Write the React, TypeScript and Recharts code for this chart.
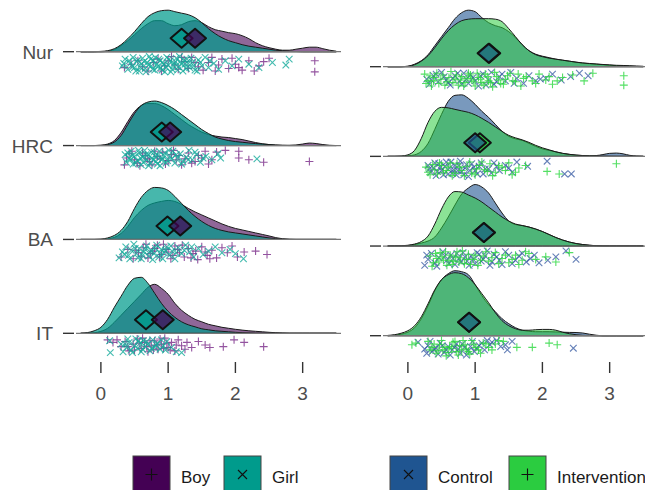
import { ComposedChart, Area, Scatter, XAxis, YAxis, ReferenceLine } from "recharts"

// x positions where the density heights were read
const GRID_X = [
  -0.3, -0.2, -0.1, 0, 0.1, 0.2, 0.3, 0.4, 0.5, 0.6, 0.7, 0.8, 0.9, 1, 1.1, 1.2, 1.3, 1.4, 1.5, 1.6,
  1.7, 1.8, 1.9, 2, 2.1, 2.2, 2.3, 2.4, 2.5, 2.6, 2.7, 2.8, 2.9, 3, 3.1, 3.2, 3.3, 3.4, 3.5,
]

// rows bottom to top (y = 1..4)
const ROW_LABELS = ["IT", "BA", "HRC", "Nur"]
const X_TICKS = [0, 1, 2, 3]

// density heights, one value per GRID_X
const NUR_BOY = [0,0,0,0,0.5,2,6,11,17,23,28,31,31,28,26,27,30,31,29,25,22,20.5,19,18,16,13,9,6,4,2.5,1.5,1.5,2.5,3.5,4.5,4.5,3,1.5,0.5]
const NUR_GIRL = [0,0,0,0.3,1,3,7,13,20,28,35,39,41,41.5,40,38.5,37,34,29,23,18,14,11,9,7,5.5,4.5,3.5,2.5,1.5,1,0.5,0.2,0,0,0,0,0,0]
const HRC_BOY = [0,0,0,0.3,1.5,5,13,24,34,40,42,42,40,36,31,26,21,17,13.5,11,9.5,8.5,8,7,6,4.5,3,1.8,1,0.5,0.3,0.3,0.6,1.5,2.5,2,1,0.3,0]
const HRC_GIRL = [0,0,0,0.2,1,3.5,10,21,32,40,43.5,44.5,43,40,36,31,26,21,16,12,8.5,6.5,5,4,3.3,2.6,2,1.5,1,0.5,0.2,0,0,0,0,0,0,0,0]
const BA_BOY = [0,0,0,0,0.5,2,6,13,22,29,34,36.5,38,39,38,35,31,27.5,24.5,21.5,18.5,15.5,13,11,9.5,8,6.5,5,3.5,1.8,0.7,0.2,0,0,0,0,0,0,0]
const BA_GIRL = [0,0,0,0.3,1.5,4,9,18,31,42,49,52,51.5,49,43,36,29,23,18,14,11,9,7.5,6.5,5.5,4.5,3.5,2.5,1.5,0.8,0.3,0,0,0,0,0,0,0,0]
const IT_BOY = [0,0,0.5,2,5,11,18,25,32,39,46,49,45,39,30,23,18,14,11.5,9,7.5,6,5,4,3.2,2.5,2,1.5,1,0.6,0.3,0,0,0,0,0,0,0,0]
const IT_GIRL = [0,0.7,2.5,6,14,26,37,48,55,56,50,40,30,22,16,11.5,8.5,6.5,4.5,3.5,2.5,2,1.5,1,0.6,0.3,0,0,0,0,0,0,0,0,0,0,0,0,0]

const NUR_CTRL = [0,0,0,0.5,2.5,6,12,21,30,39,48,54,56.5,55,49,44,41,39,35,29,22,16,12.5,10.5,9,7.5,6.5,5.5,4.5,3.5,3,2.5,2,1.5,1,0.7,0.4,0.2,0]
const NUR_INT = [0,0,0,0.3,2,5.5,11,19,28,36,42,46,47.5,48,48,48,47.5,45,38,30,22,16,12,10,8.5,7.5,6.5,5.5,4.5,3.8,3.2,2.7,2.2,1.8,1.4,1.2,1,0.7,0.4]
const HRC_CTRL = [0,0,0,0.5,1.5,5,13,27,42,55,61,61.5,58,52,45,39,32,25,20,17.5,16,13,10,7.5,6,4.5,3,2,1.2,0.8,0.6,0.8,1.8,3,3.3,2.5,1,0.3,0]
const HRC_INT = [0,0,0.3,1.5,6,18,34,45,49,48.5,47,45.5,44,41.5,38,34,29.5,25,21,18.5,16.5,14,11,8.5,6.5,4.5,3,2,1.3,0.8,0.5,0.3,0.2,0.1,0,0,0,0,0]
const BA_CTRL = [0,0,0,0.5,1.5,3,5,9,18,29,41,52,58,61.5,59,53,43,33,25,21.5,20.5,19,17,14.5,11.5,8.5,6,4,2.5,1.5,0.8,0.3,0,0,0,0,0,0,0]
const BA_INT = [0,0,0.2,0.8,2,4.5,10,22,37,49,54.5,54,51,48,44,39,34,29,25,22,20.5,19,17,14.5,11.5,8.5,6,4,2.5,1.5,0.8,0.3,0,0,0,0,0,0,0]
const IT_CTRL = [0,0.5,1.5,3.5,8,17,30,45,56,62,65,64,61,51,40,31,24,17,12,8,5.5,4.5,4,4,4,3.8,3.5,3.3,3.2,2.7,1.5,0.5,0,0,0,0,0,0,0]
const IT_INT = [0.3,1,2.5,5,10,19,32,46,56,61,63,62,58,51,42,33,23,15,10,7,5.5,5.5,6,6.3,6.3,5.5,3.5,2,1,0.4,0.2,0,0,0,0,0,0,0,0]

// raw observations: [value, jitter 0..1]
const NUR_GIRL_PTS = [[0.32,0.6],[0.36,0.2],[0.4,0.8],[0.44,0.45],[0.48,0.1],[0.5,0.7],[0.53,0.35],[0.57,0.9],[0.6,0.5],[0.62,0.15],[0.66,0.75],[0.69,0.4],[0.72,0.05],[0.75,0.6],[0.78,0.3],[0.8,0.85],[0.83,0.5],[0.86,0.2],[0.89,0.7],[0.92,0.4],[0.95,0.95],[0.98,0.1],[1.0,0.55],[1.03,0.3],[1.06,0.8],[1.09,0.45],[1.12,0.15],[1.15,0.65],[1.18,0.35],[1.22,0.9],[1.25,0.5],[1.28,0.2],[1.32,0.7],[1.36,0.4],[1.4,0.85],[1.45,0.25],[1.5,0.6],[1.55,0.1],[1.68,0.45],[1.75,0.8],[1.85,0.3],[1.95,0.6],[2.05,0.2],[2.2,0.5],[2.35,0.7],[2.55,0.4],[2.75,0.55],[2.8,0.2],
  [0.34,0.45],[0.42,0.3],[0.47,0.65],[0.52,0.9],[0.55,0.25],[0.59,0.7],[0.64,0.35],[0.67,0.95],[0.71,0.55],[0.74,0.2],[0.77,0.8],[0.81,0.1],[0.84,0.65],[0.88,0.3],[0.91,0.85],[0.94,0.5],[0.97,0.7],[1.01,0.2],[1.04,0.95],[1.08,0.6],[1.11,0.35],[1.14,0.85],[1.17,0.05],[1.2,0.5],[1.24,0.25],[1.27,0.75],[1.3,0.45],[1.34,0.15],[1.38,0.6],[1.43,0.9],[1.48,0.4],[1.6,0.7],[1.62,0.3]]
const NUR_BOY_PTS = [[0.35,0.7],[0.55,0.3],[0.7,0.9],[0.85,0.2],[0.95,0.6],[1.05,0.05],[1.15,0.8],[1.25,0.35],[1.35,0.1],[1.45,0.65],[1.6,0.4],[1.7,0.9],[1.8,0.2],[1.9,0.75],[2.0,0.5],[2.1,0.85],[2.2,0.3],[2.35,0.6],[2.5,0.15],[3.18,0.3],[3.18,0.95],
  [0.45,0.5],[0.62,0.65],[0.78,0.4],[0.9,0.9],[1.0,0.3],[1.1,0.55],[1.2,0.1],[1.3,0.75],[1.4,0.4],[1.52,0.85],[1.65,0.1],[1.75,0.55],[1.95,0.15],[2.05,0.7],[2.28,0.9],[2.42,0.35]]
const HRC_GIRL_PTS = [[0.36,0.3],[0.38,0.75],[0.42,0.5],[0.45,0.1],[0.48,0.85],[0.5,0.4],[0.54,0.65],[0.57,0.2],[0.6,0.9],[0.62,0.45],[0.65,0.05],[0.68,0.6],[0.7,0.3],[0.73,0.8],[0.76,0.5],[0.79,0.15],[0.82,0.7],[0.85,0.35],[0.88,0.95],[0.92,0.55],[0.95,0.2],[0.99,0.65],[1.03,0.4],[1.07,0.1],[1.1,0.8],[1.14,0.5],[1.18,0.25],[1.22,0.7],[1.27,0.45],[1.31,0.05],[1.36,0.6],[1.42,0.3],[1.48,0.75],[1.56,0.4],[1.65,0.6],[1.74,0.25],[1.78,0.5],[2.32,0.55],
  [0.4,0.2],[0.44,0.6],[0.47,0.35],[0.52,0.8],[0.56,0.05],[0.59,0.5],[0.63,0.75],[0.67,0.3],[0.71,0.95],[0.75,0.15],[0.78,0.6],[0.81,0.4],[0.84,0.85],[0.87,0.1],[0.9,0.6],[0.94,0.35],[0.97,0.8],[1.01,0.05],[1.05,0.55],[1.12,0.3],[1.2,0.85],[1.3,0.6],[1.4,0.15],[1.52,0.5]]
const HRC_BOY_PTS = [[0.35,0.9],[0.42,0.25],[0.5,0.6],[0.58,0.95],[0.66,0.35],[0.72,0.7],[0.8,0.1],[0.88,0.55],[0.96,0.85],[1.05,0.3],[1.12,0.6],[1.2,0.9],[1.3,0.2],[1.4,0.7],[1.5,0.5],[1.6,0.85],[1.72,0.15],[1.85,0.05],[2.05,0.1],[2.05,0.5],[2.2,0.6],[2.42,0.75],[3.1,0.7],
  [0.38,0.5],[0.46,0.1],[0.54,0.8],[0.62,0.2],[0.69,0.55],[0.76,0.9],[0.84,0.4],[0.92,0.15],[1.0,0.65],[1.08,0.05],[1.16,0.35],[1.25,0.55],[1.35,0.8],[1.45,0.35],[1.55,0.1],[1.65,0.6]]
const BA_GIRL_PTS = [[0.27,0.85],[0.32,0.5],[0.37,0.2],[0.41,0.7],[0.45,0.4],[0.49,0.05],[0.53,0.6],[0.57,0.3],[0.6,0.9],[0.64,0.5],[0.68,0.15],[0.71,0.75],[0.75,0.4],[0.79,0.6],[0.83,0.1],[0.86,0.8],[0.9,0.35],[0.94,0.55],[0.98,0.2],[1.02,0.7],[1.06,0.45],[1.1,0.9],[1.15,0.25],[1.2,0.6],[1.26,0.1],[1.32,0.5],[1.38,0.8],[1.45,0.3],[1.52,0.65],[1.6,0.45],[1.7,0.2],[1.8,0.55],[1.92,0.35],[2.0,0.6],[2.12,0.9],
  [0.35,0.65],[0.43,0.9],[0.51,0.3],[0.55,0.85],[0.62,0.7],[0.66,0.35],[0.73,0.5],[0.77,0.95],[0.81,0.3],[0.88,0.55],[0.92,0.9],[0.96,0.4],[1.04,0.15],[1.12,0.55],[1.24,0.4],[1.35,0.2]]
const BA_BOY_PTS = [[0.3,0.8],[0.4,0.35],[0.48,0.9],[0.56,0.55],[0.63,0.25],[0.7,0.85],[0.77,0.45],[0.84,0.1],[0.9,0.65],[0.97,0.35],[1.04,0.9],[1.1,0.15],[1.17,0.55],[1.24,0.8],[1.3,0.3],[1.37,0.6],[1.44,0.95],[1.5,0.2],[1.58,0.7],[1.65,0.4],[1.72,0.85],[1.8,0.25],[1.88,0.55],[1.95,0.15],[2.03,0.8],[2.13,0.5],[2.3,0.45],[2.47,0.65],
  [0.52,0.4],[0.6,0.75],[0.67,0.05],[0.74,0.6],[0.8,0.3],[0.87,0.8],[0.93,0.05],[1.0,0.5],[1.07,0.7],[1.14,0.35],[1.21,0.1],[1.34,0.85],[1.41,0.45],[1.55,0.5],[1.62,0.9]]
const IT_GIRL_PTS = [[0.13,0.2],[0.14,0.9],[0.3,0.4],[0.33,0.85],[0.38,0.6],[0.42,0.3],[0.45,0.75],[0.5,0.5],[0.52,0.1],[0.55,0.65],[0.58,0.35],[0.6,0.85],[0.63,0.2],[0.66,0.55],[0.7,0.4],[0.73,0.8],[0.77,0.15],[0.8,0.6],[0.84,0.35],[0.88,0.7],[0.93,0.5],[0.98,0.25],[1.05,0.6],[1.12,0.85],[1.2,0.9],
  [0.36,0.4],[0.4,0.1],[0.47,0.9],[0.56,0.2],[0.62,0.7],[0.68,0.25],[0.75,0.65],[0.82,0.45],[0.9,0.15],[0.96,0.75]]
const IT_BOY_PTS = [[0.1,0.15],[0.18,0.3],[0.24,0.15],[0.3,0.55],[0.36,0.25],[0.42,0.8],[0.48,0.4],[0.54,0.1],[0.6,0.65],[0.65,0.3],[0.7,0.85],[0.75,0.5],[0.8,0.2],[0.85,0.7],[0.9,0.4],[0.95,0.05],[1.0,0.6],[1.05,0.3],[1.1,0.8],[1.15,0.15],[1.2,0.5],[1.28,0.3],[1.35,0.6],[1.45,0.25],[1.55,0.45],[1.62,0.6],[1.82,0.55],[1.98,0.15],[2.13,0.3],[2.42,0.55],
  [0.4,0.55],[0.5,0.75],[0.57,0.35],[0.62,0.05],[0.68,0.55],[0.73,0.2],[0.78,0.75],[0.83,0.45],[0.88,0.1],[0.93,0.65],[0.98,0.35],[1.03,0.75],[1.12,0.45],[1.25,0.7]]

const NUR_CTRL_PTS = [[0.28,0.5],[0.32,0.8],[0.38,0.3],[0.45,0.65],[0.5,0.1],[0.57,0.55],[0.63,0.85],[0.7,0.3],[0.77,0.6],[0.83,0.15],[0.9,0.75],[0.97,0.4],[1.05,0.9],[1.12,0.2],[1.2,0.55],[1.28,0.8],[1.36,0.35],[1.45,0.6],[1.53,0.1],[1.62,0.45],[1.72,0.75],[1.8,0.3],[1.9,0.6],[2.05,0.45],[2.15,0.2],[2.28,0.55],[2.42,0.35],[2.55,0.15],[2.68,0.3],
  [0.35,0.55],[0.42,0.2],[0.54,0.35],[0.6,0.7],[0.67,0.45],[0.74,0.15],[0.8,0.8],[0.87,0.5],[0.93,0.25],[1.0,0.6],[1.08,0.3],[1.16,0.85],[1.24,0.1],[1.32,0.65],[1.4,0.2],[1.58,0.75],[1.97,0.5]]
const NUR_INT_PTS = [[0.25,0.2],[0.3,0.6],[0.35,0.9],[0.4,0.4],[0.46,0.75],[0.52,0.25],[0.58,0.65],[0.64,0.05],[0.7,0.5],[0.75,0.85],[0.8,0.35],[0.85,0.7],[0.9,0.15],[0.95,0.55],[1.0,0.9],[1.05,0.4],[1.1,0.7],[1.15,0.2],[1.2,0.6],[1.26,0.95],[1.32,0.35],[1.38,0.75],[1.45,0.5],[1.52,0.15],[1.6,0.65],[1.68,0.9],[1.76,0.35],[1.85,0.6],[1.95,0.2],[2.05,0.55],[2.15,0.8],[2.3,0.4],[2.45,0.25],[2.62,0.6],[2.75,0.15],[3.21,0.3],[3.21,0.85],
  [0.27,0.75],[0.33,0.3],[0.38,0.6],[0.43,0.15],[0.49,0.5],[0.55,0.85],[0.61,0.4],[0.67,0.7],[0.72,0.25],[0.78,0.55],[0.83,0.9],[0.88,0.45],[0.93,0.25],[0.98,0.65],[1.03,0.15],[1.08,0.5],[1.13,0.85],[1.18,0.35],[1.23,0.7],[1.29,0.1],[1.35,0.55],[1.42,0.8],[1.48,0.3],[1.56,0.6],[1.64,0.2],[1.72,0.45],[1.9,0.75],[2.1,0.35],[2.22,0.6]]
const HRC_CTRL_PTS = [[0.3,0.3],[0.34,0.7],[0.38,0.45],[0.42,0.9],[0.46,0.2],[0.5,0.6],[0.55,0.35],[0.6,0.8],[0.64,0.1],[0.68,0.55],[0.72,0.85],[0.76,0.3],[0.8,0.65],[0.85,0.45],[0.9,0.95],[0.95,0.2],[1.0,0.6],[1.06,0.35],[1.12,0.8],[1.2,0.5],[1.28,0.15],[1.36,0.6],[1.45,0.3],[1.55,0.7],[1.62,0.1],[1.78,0.35],[2.07,0.05],[2.33,0.8],[2.43,0.8],
  [0.32,0.5],[0.4,0.15],[0.44,0.65],[0.48,0.4],[0.53,0.85],[0.57,0.1],[0.62,0.45],[0.66,0.75],[0.7,0.3],[0.74,0.6],[0.78,0.05],[0.83,0.85],[0.87,0.25],[0.92,0.6],[0.98,0.4],[1.03,0.8],[1.09,0.15],[1.15,0.5],[1.24,0.75],[1.32,0.35],[1.5,0.45]]
const HRC_INT_PTS = [[0.27,0.4],[0.33,0.85],[0.4,0.55],[0.47,0.15],[0.53,0.7],[0.6,0.4],[0.66,0.9],[0.73,0.2],[0.8,0.6],[0.88,0.35],[0.95,0.75],[1.02,0.5],[1.1,0.1],[1.18,0.65],[1.26,0.9],[1.35,0.3],[1.45,0.6],[1.55,0.85],[1.65,0.45],[2.07,0.65],[2.25,0.8],[3.1,0.2],
  [0.3,0.7],[0.37,0.25],[0.44,0.8],[0.5,0.3],[0.57,0.6],[0.63,0.15],[0.7,0.75],[0.77,0.4],[0.84,0.9],[0.92,0.1],[1.0,0.85],[1.06,0.3],[1.14,0.55],[1.22,0.2],[1.3,0.7],[1.4,0.4],[1.5,0.15],[1.6,0.7],[1.75,0.3]]
const BA_CTRL_PTS = [[0.25,0.9],[0.3,0.55],[0.35,0.2],[0.4,0.75],[0.46,0.45],[0.52,0.1],[0.58,0.6],[0.64,0.3],[0.7,0.85],[0.76,0.5],[0.82,0.15],[0.88,0.65],[0.94,0.35],[1.0,0.8],[1.06,0.25],[1.12,0.55],[1.18,0.05],[1.25,0.7],[1.32,0.4],[1.4,0.85],[1.5,0.3],[1.6,0.6],[1.7,0.2],[1.82,0.5],[1.95,0.75],[2.35,0.05],[2.5,0.55],
  [0.28,0.3],[0.43,0.95],[0.55,0.35],[0.61,0.8],[0.67,0.5],[0.73,0.2],[0.79,0.7],[0.85,0.4],[0.91,0.9],[0.97,0.55],[1.03,0.15],[1.09,0.65],[1.15,0.35],[1.22,0.9],[1.28,0.25],[1.36,0.6],[1.45,0.1],[1.55,0.8],[1.65,0.35],[1.76,0.7],[1.88,0.3],[2.08,0.6],[2.2,0.4]]
const BA_INT_PTS = [[0.33,0.35],[0.38,0.75],[0.43,0.5],[0.48,0.15],[0.53,0.6],[0.58,0.9],[0.63,0.3],[0.68,0.65],[0.73,0.1],[0.78,0.45],[0.84,0.8],[0.9,0.25],[0.97,0.55],[1.04,0.9],[1.12,0.35],[1.2,0.65],[1.3,0.15],[1.4,0.5],[1.5,0.75],[1.6,0.3],[1.7,0.6],[1.8,0.2],[1.9,0.55],[2.05,0.4],[2.2,0.7],[2.4,0.15],
  [0.36,0.95],[0.41,0.2],[0.46,0.7],[0.51,0.4],[0.56,0.1],[0.61,0.6],[0.66,0.85],[0.71,0.4],[0.76,0.7],[0.81,0.05],[0.87,0.55],[0.93,0.85],[1.0,0.3],[1.08,0.6],[1.16,0.1],[1.25,0.45],[1.35,0.8],[1.45,0.3],[1.55,0.55],[1.65,0.85],[1.75,0.1]]
const IT_CTRL_PTS = [[0.15,0.15],[0.25,0.55],[0.3,0.35],[0.36,0.7],[0.42,0.5],[0.48,0.2],[0.54,0.75],[0.6,0.4],[0.66,0.6],[0.72,0.25],[0.78,0.8],[0.84,0.45],[0.9,0.65],[0.96,0.1],[1.02,0.5],[1.1,0.2],[1.18,0.05],[1.25,0.15],[1.32,0.05],[1.45,0.3],[1.55,0.1],[2.46,0.5],
  [0.28,0.8],[0.33,0.1],[0.39,0.55],[0.45,0.85],[0.51,0.35],[0.57,0.6],[0.63,0.9],[0.69,0.45],[0.75,0.55],[0.81,0.25],[0.87,0.9],[0.93,0.4],[0.99,0.7],[1.06,0.35],[1.14,0.6],[1.22,0.3],[1.38,0.4],[1.48,0.6]]
const IT_INT_PTS = [[0.06,0.3],[0.12,0.2],[0.3,0.1],[0.36,0.45],[0.42,0.8],[0.47,0.3],[0.52,0.6],[0.57,0.95],[0.62,0.4],[0.67,0.15],[0.72,0.7],[0.77,0.35],[0.82,0.05],[0.87,0.55],[0.92,0.85],[0.98,0.3],[1.05,0.6],[1.12,0.2],[1.2,0.45],[1.3,0.25],[1.42,0.1],[1.62,0.45],[1.85,0.45],[2.1,0.2],[2.22,0.3],
  [0.33,0.6],[0.39,0.25],[0.45,0.65],[0.5,0.05],[0.55,0.45],[0.6,0.75],[0.65,0.5],[0.7,0.1],[0.75,0.9],[0.8,0.6],[0.85,0.3],[0.9,0.7],[0.95,0.05],[1.01,0.45],[1.08,0.8],[1.16,0.25],[1.25,0.6],[1.35,0.05]]

// means (diamonds), rows IT, BA, HRC, Nur
const BOY_MEANS = [0.92, 1.18, 1.03, 1.4]
const GIRL_MEANS = [0.67, 0.99, 0.905, 1.2]
const CTRL_MEANS = [0.91, 1.13, 1.0, 1.2]
const INT_MEANS = [0.91, 1.13, 1.07, 1.21]

const BOY = "#440154"
const GIRL = "#009B8C"
const CTRL = "#1F5591"
const INTV = "#2BCC40"
const FONT = "'Liberation Sans', Arial, sans-serif"

type Group = {
  key: string
  color: string
  fillOpacity: number
  pointColor: string
  marker: "plus" | "cross"
  dens: number[][] // by row
  pts: number[][][] // by row
  means: number[]
  meanOpacity: number
}

const plusShape = (color: string) => (p: any) => {
  const { cx, cy } = p
  const r = 4
  return <path d={`M${cx - r},${cy}H${cx + r}M${cx},${cy - r}V${cy + r}`} stroke={color} strokeWidth={1.1} fill="none" />
}
const crossShape = (color: string) => (p: any) => {
  const { cx, cy } = p
  const r = 3.3
  return <path d={`M${cx - r},${cy - r}L${cx + r},${cy + r}M${cx - r},${cy + r}L${cx + r},${cy - r}`} stroke={color} strokeWidth={1.1} fill="none" />
}
const diamondShape = (color: string, op: number) => (p: any) => {
  const { cx, cy } = p
  return (
    <polygon
      points={`${cx - 11},${cy} ${cx},${cy - 9.5} ${cx + 11},${cy} ${cx},${cy + 9.5}`}
      fill={color}
      fillOpacity={op}
      stroke="#111"
      strokeWidth={2}
      strokeLinejoin="round"
    />
  )
}

function Panel({ groups, domainY, pxPerRow, showLabels, left }: { groups: Group[]; domainY: number[]; pxPerRow: number; showLabels: boolean; left: number }) {
  const rows = [1, 2, 3, 4]
  const data = GRID_X.map((x, i) => {
    const o: any = { x }
    groups.forEach(g => {
      g.dens.forEach((h, r) => {
        o[`${g.key}${r}`] = [r + 1, r + 1 + h[i] / pxPerRow]
      })
    })
    return o
  })

  const YTick = (p: any) => (
    <g>
      <line x1={p.x - 13} x2={p.x - 2} y1={p.y} y2={p.y} stroke="#333" strokeWidth={1.4} />
      {showLabels && (
        <text x={p.x - 23} y={p.y} dy={7} textAnchor="end" fontSize={19} fill="#4d4d4d" fontFamily={FONT}>
          {ROW_LABELS[p.payload.value - 1]}
        </text>
      )}
    </g>
  )
  const XTick = (p: any) => (
    <g>
      <line x1={p.x} x2={p.x} y1={p.y + 1} y2={p.y + 12} stroke="#333" strokeWidth={1.4} />
      <text x={p.x} y={p.y + 38.5} textAnchor="middle" fontSize={19} fill="#4d4d4d" fontFamily={FONT}>
        {p.payload.value}
      </text>
    </g>
  )

  // second group's diamonds go underneath the first group's
  const meanOrder = [...groups].reverse()

  return (
    <div style={{ position: "absolute", left, top: 0 }}>
      <ComposedChart width={345} height={410} data={data} margin={{ top: 4, right: 4, bottom: 4, left: 0 }}>
        <XAxis
          dataKey="x"
          type="number"
          domain={[-0.37, 3.57]}
          allowDataOverflow
          ticks={X_TICKS}
          axisLine={false}
          tickLine={false}
          tickSize={0}
          tickMargin={0}
          height={45}
          tick={XTick}
        />
        <YAxis
          dataKey="y"
          type="number"
          domain={domainY}
          allowDataOverflow
          ticks={rows}
          axisLine={false}
          tickLine={false}
          tickSize={0}
          tickMargin={0}
          width={76}
          tick={YTick}
        />
        {rows.map(r => (
          <ReferenceLine key={`base${r}`} y={r} stroke="#777" strokeWidth={1.2} />
        ))}
        {groups.map(g =>
          rows.map(r => (
            <Area
              key={`${g.key}${r - 1}`}
              dataKey={`${g.key}${r - 1}`}
              type="monotone"
              stroke="#1a1a1a"
              strokeWidth={1}
              fill={g.color}
              fillOpacity={g.fillOpacity}
              dot={false}
              activeDot={false}
              isAnimationActive={false}
            />
          ))
        )}
        {groups.map(g =>
          rows.map(r => (
            <Scatter
              key={`pts-${g.key}${r}`}
              data={g.pts[r - 1].map(([v, j]) => ({ x: v, y: r - (4 + 17 * j) / pxPerRow }))}
              shape={g.marker === "plus" ? plusShape(g.pointColor) : crossShape(g.pointColor)}
              isAnimationActive={false}
            />
          ))
        )}
        {meanOrder.map(g => (
          <Scatter
            key={`mean-${g.key}`}
            data={g.means.map((m, i) => ({ x: m, y: i + 1 + 13.5 / pxPerRow }))}
            shape={diamondShape(g.color, g.meanOpacity)}
            isAnimationActive={false}
          />
        ))}
      </ComposedChart>
    </div>
  )
}

const LEFT_GROUPS: Group[] = [
  {
    key: "boy", color: BOY, fillOpacity: 0.6, pointColor: "rgba(120,40,135,0.8)", marker: "plus",
    dens: [IT_BOY, BA_BOY, HRC_BOY, NUR_BOY],
    pts: [IT_BOY_PTS, BA_BOY_PTS, HRC_BOY_PTS, NUR_BOY_PTS],
    means: BOY_MEANS, meanOpacity: 0.7,
  },
  {
    key: "girl", color: GIRL, fillOpacity: 0.72, pointColor: "rgba(20,170,155,0.8)", marker: "cross",
    dens: [IT_GIRL, BA_GIRL, HRC_GIRL, NUR_GIRL],
    pts: [IT_GIRL_PTS, BA_GIRL_PTS, HRC_GIRL_PTS, NUR_GIRL_PTS],
    means: GIRL_MEANS, meanOpacity: 0.8,
  },
]

const RIGHT_GROUPS: Group[] = [
  {
    key: "ctrl", color: CTRL, fillOpacity: 0.6, pointColor: "rgba(50,85,160,0.75)", marker: "cross",
    dens: [IT_CTRL, BA_CTRL, HRC_CTRL, NUR_CTRL],
    pts: [IT_CTRL_PTS, BA_CTRL_PTS, HRC_CTRL_PTS, NUR_CTRL_PTS],
    means: CTRL_MEANS, meanOpacity: 0.7,
  },
  {
    key: "int", color: INTV, fillOpacity: 0.55, pointColor: "rgba(40,215,60,0.8)", marker: "plus",
    dens: [IT_INT, BA_INT, HRC_INT, NUR_INT],
    pts: [IT_INT_PTS, BA_INT_PTS, HRC_INT_PTS, NUR_INT_PTS],
    means: INT_MEANS, meanOpacity: 0.8,
  },
]

function LegendKey({ x, color, marker, label }: { x: number; color: string; marker: "plus" | "cross"; label: string }) {
  const cx = x + 18.5
  const cy = 474.5
  return (
    <g>
      <rect x={x} y={456} width={37} height={37} fill={color} stroke="#444" strokeWidth={1} />
      {marker === "plus" ? (
        <path d={`M${cx - 6},${cy}H${cx + 6}M${cx},${cy - 6}V${cy + 6}`} stroke="#111" strokeWidth={1.1} />
      ) : (
        <path d={`M${cx - 4.5},${cy - 4.5}L${cx + 4.5},${cy + 4.5}M${cx - 4.5},${cy + 4.5}L${cx + 4.5},${cy - 4.5}`} stroke="#111" strokeWidth={1.1} />
      )}
      <text x={x + 48} y={482.5} fontSize={17} fill="#1a1a1a" fontFamily={FONT}>
        {label}
      </text>
    </g>
  )
}

export default function App() {
  return (
    <div style={{ position: "absolute", left: 0, top: 0, width: 645, height: 490, overflow: "hidden", background: "#fff", fontFamily: FONT }}>
      <Panel groups={LEFT_GROUPS} domainY={[0.705, 4.508]} pxPerRow={93.87} showLabels left={0} />
      <Panel groups={RIGHT_GROUPS} domainY={[0.718, 4.699]} pxPerRow={89.67} showLabels={false} left={307} />
      <svg width={645} height={490} style={{ position: "absolute", left: 0, top: 0, pointerEvents: "none" }}>
        <LegendKey x={133} color={BOY} marker="plus" label="Boy" />
        <LegendKey x={224} color={GIRL} marker="cross" label="Girl" />
        <LegendKey x={390} color={CTRL} marker="cross" label="Control" />
        <LegendKey x={509} color={INTV} marker="plus" label="Intervention" />
      </svg>
    </div>
  )
}
